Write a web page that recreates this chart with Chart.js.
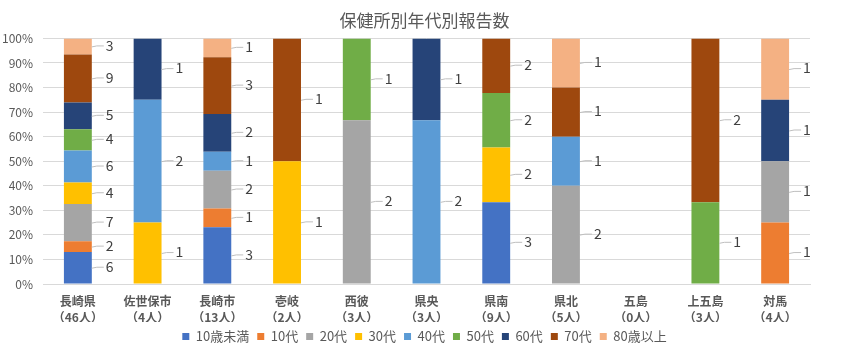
<!DOCTYPE html>
<html>
<head>
<meta charset="utf-8">
<script src="https://cdn.jsdelivr.net/npm/chart.js@4"></script>
<style>
  html, body { margin: 0; padding: 0; background: #ffffff; }
  #wrap { width: 849px; height: 356px; position: relative; }
</style>
</head>
<body>
<div id="wrap"><canvas id="c" width="849" height="356"></canvas></div>
<script>
// ---- data ----
const chartTitle = '保健所別年代別報告数';
const categories = ['長崎県', '佐世保市', '長崎市', '壱岐', '西彼', '県央', '県南', '県北', '五島', '上五島', '対馬'];
const people = [46, 4, 13, 2, 3, 3, 9, 5, 0, 3, 4];
const seriesNames = ['10歳未満', '10代', '20代', '30代', '40代', '50代', '60代', '70代', '80歳以上'];
const ageUnder10 = [6, 0, 3, 0, 0, 0, 3, 0, 0, 0, 0];
const age10s     = [2, 0, 1, 0, 0, 0, 0, 0, 0, 0, 1];
const age20s     = [7, 0, 2, 0, 2, 0, 0, 2, 0, 0, 1];
const age30s     = [4, 1, 0, 1, 0, 0, 2, 0, 0, 0, 0];
const age40s     = [6, 2, 1, 0, 0, 2, 0, 1, 0, 0, 0];
const age50s     = [4, 0, 0, 0, 1, 0, 2, 0, 0, 1, 0];
const age60s     = [5, 1, 2, 0, 0, 1, 0, 0, 0, 0, 1];
const age70s     = [9, 0, 3, 1, 0, 0, 2, 1, 0, 2, 0];
const age80plus  = [3, 0, 1, 0, 0, 0, 0, 1, 0, 0, 1];
const yTicks = [0, 10, 20, 30, 40, 50, 60, 70, 80, 90, 100];

const seriesCounts = [ageUnder10, age10s, age20s, age30s, age40s, age50s, age60s, age70s, age80plus];
const seriesColors = ['#4472C4', '#ED7D31', '#A5A5A5', '#FFC000', '#5B9BD5', '#70AD47', '#264478', '#9E480E', '#F4B183'];

const FONT = "'Noto Sans CJK JP', 'Noto Sans', sans-serif";
const TEXT = '#595959';

const labels = categories.map((c, i) => [c, '（' + people[i] + '人）']);
const datasets = seriesCounts.map((counts, k) => ({
  label: seriesNames[k],
  data: counts.map((v, i) => people[i] > 0 ? v / people[i] * 100 : 0),
  counts: counts,
  backgroundColor: seriesColors[k],
  borderWidth: 0,
  barPercentage: 0.4,
  categoryPercentage: 1.0
}));

const calloutLabels = {
  id: 'calloutLabels',
  afterDatasetsDraw(chart) {
    const ctx = chart.ctx;
    ctx.save();
    ctx.font = '14px ' + FONT;
    ctx.textBaseline = 'middle';
    ctx.textAlign = 'left';
    chart.data.datasets.forEach((ds, di) => {
      const meta = chart.getDatasetMeta(di);
      meta.data.forEach((el, i) => {
        const n = ds.counts[i];
        if (!n) return;
        const p = el.getProps(['x', 'y', 'base', 'width'], true);
        const right = p.x + p.width / 2;
        const mid = (p.y + p.base) / 2;
        const ly = mid - 1;
        ctx.strokeStyle = '#BFBFBF';
        ctx.lineWidth = 1;
        ctx.beginPath();
        ctx.moveTo(right, mid + 0.5);
        ctx.lineTo(right + 5, ly + 0.5);
        ctx.lineTo(right + 12, ly + 0.5);
        ctx.stroke();
        ctx.fillStyle = '#404040';
        ctx.fillText(String(n), right + 14, ly);
      });
    });
    ctx.restore();
  }
};

new Chart(document.getElementById('c'), {
  type: 'bar',
  data: { labels: labels, datasets: datasets },
  plugins: [calloutLabels],
  options: {
    responsive: false,
    animation: false,
    layout: { padding: { left: 0, right: 0, top: 0, bottom: 3 } },
    plugins: {
      tooltip: { enabled: false },
      title: {
        display: true,
        text: chartTitle,
        color: TEXT,
        font: { family: FONT, size: 17, weight: 'normal', lineHeight: 1.2 },
        padding: { top: 10, bottom: 8 }
      },
      legend: {
        display: true,
        position: 'bottom',
        labels: {
          color: TEXT,
          font: { family: FONT, size: 13 },
          boxWidth: 7,
          boxHeight: 7,
          padding: 8
        }
      }
    },
    scales: {
      x: {
        stacked: true,
        grid: { display: false, drawTicks: false },
        border: { display: true, color: '#D9D9D9' },
        ticks: {
          color: TEXT,
          padding: 10,
          maxRotation: 0,
          autoSkip: false,
          font: { family: FONT, size: 12, weight: 'bold', lineHeight: 1.3 }
        },
        afterFit(s) { s.height = 38; }
      },
      y: {
        stacked: true,
        min: 0,
        max: 100,
        afterBuildTicks(s) { s.ticks = yTicks.map(v => ({ value: v })); },
        grid: { color: '#D9D9D9', drawTicks: false },
        border: { display: false },
        ticks: {
          color: TEXT,
          padding: 10,
          font: { family: FONT, size: 12 },
          callback: v => v + '%'
        },
        afterFit(s) { s.width = 43; }
      },
      yRight: {
        position: 'right',
        display: true,
        grid: { display: false, drawTicks: false },
        border: { display: false },
        ticks: { display: false },
        afterFit(s) { s.width = 39; }
      }
    }
  }
});
</script>
</body>
</html>
